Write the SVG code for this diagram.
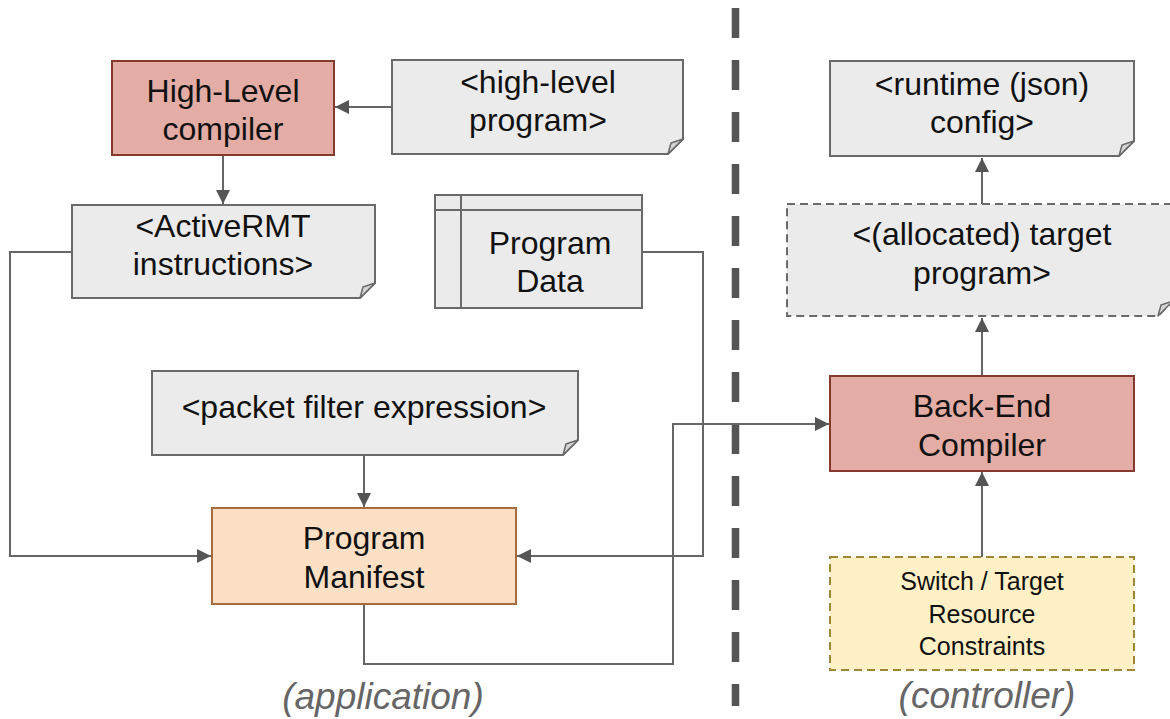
<svg xmlns="http://www.w3.org/2000/svg" width="1170" height="719" viewBox="0 0 1170 719">
<defs>
<style>
.t{font-family:"Liberation Sans",Arial,Helvetica,sans-serif;font-size:32px;fill:#111;text-anchor:middle}
.s{font-size:25px}
.lab{font-family:"Liberation Sans",Arial,Helvetica,sans-serif;font-size:37px;font-style:italic;fill:#666;text-anchor:middle}
.note{fill:#ebebeb;stroke:#6a6a6a;stroke-width:2}
.fold{fill:#d4d4d4;stroke:#6a6a6a;stroke-width:1.5;stroke-linejoin:round}
.pink{fill:#e3aca5;stroke:#86392e;stroke-width:2}
.c{fill:none;stroke:#666;stroke-width:2}
</style>
<marker id="ah" markerUnits="userSpaceOnUse" markerWidth="16" markerHeight="16" refX="14" refY="7" orient="auto">
<path d="M0,0 L14,7 L0,14 z" fill="#555"/>
</marker>
</defs>
<rect width="1170" height="719" fill="#fff"/>

<line x1="735.5" y1="8" x2="735.5" y2="706" stroke="#555" stroke-width="7.5" stroke-dasharray="30,22"/>

<g id="connectors">
<path class="c" d="M392,107 H335" marker-end="url(#ah)"/>
<path class="c" d="M223,155 V204" marker-end="url(#ah)"/>
<path class="c" d="M72,252 H10 V556 H211" marker-end="url(#ah)"/>
<path class="c" d="M642,252 H703 V556 H517" marker-end="url(#ah)"/>
<path class="c" d="M364,455 V507" marker-end="url(#ah)"/>
<path class="c" d="M364,604 V664 H673 V424 H829" marker-end="url(#ah)"/>
<path class="c" d="M982,376 V318" marker-end="url(#ah)"/>
<path class="c" d="M982,204 V158" marker-end="url(#ah)"/>
<path class="c" d="M982,557 V472" marker-end="url(#ah)"/>
</g>

<g id="high-level-compiler">
<rect class="pink" x="112" y="61" width="222" height="94"/>
<text class="t" x="223" y="102">High-Level</text>
<text class="t" x="223" y="140">compiler</text>
</g>

<g id="high-level-program">
<path class="note" d="M392,60 H683 V139 L668,154 H392 Z"/>
<path class="fold" d="M668,154 L671,143 L683,139 Z"/>
<text class="t" x="538" y="93">&lt;high-level</text>
<text class="t" x="538" y="131">program&gt;</text>
</g>

<g id="activermt-instructions">
<path class="note" d="M72,205 H375 V283 L360,298 H72 Z"/>
<path class="fold" d="M360,298 L363,287 L375,283 Z"/>
<text class="t" x="223" y="237">&lt;ActiveRMT</text>
<text class="t" x="223" y="275">instructions&gt;</text>
</g>

<g id="program-data">
<rect class="note" x="435" y="195" width="207" height="113"/>
<line x1="435" y1="210" x2="642" y2="210" stroke="#6a6a6a" stroke-width="2"/>
<line x1="461" y1="195" x2="461" y2="308" stroke="#6a6a6a" stroke-width="2"/>
<text class="t" x="550" y="254">Program</text>
<text class="t" x="550" y="292">Data</text>
</g>

<g id="packet-filter-expression">
<path class="note" d="M152,371 H578 V440 L563,455 H152 Z"/>
<path class="fold" d="M563,455 L566,444 L578,440 Z"/>
<text class="t" x="364" y="418">&lt;packet filter expression&gt;</text>
</g>

<g id="program-manifest">
<rect x="212" y="508" width="304" height="96" fill="#fce0c5" stroke="#a86b3c" stroke-width="2"/>
<text class="t" x="364" y="549">Program</text>
<text class="t" x="364" y="588">Manifest</text>
</g>

<g id="runtime-config">
<path class="note" d="M830,61 H1134 V141 L1119,156 H830 Z"/>
<path class="fold" d="M1119,156 L1122,145 L1134,141 Z"/>
<text class="t" x="982" y="95">&lt;runtime (json)</text>
<text class="t" x="982" y="133">config&gt;</text>
</g>

<g id="allocated-target-program">
<path d="M787,204 H1173 V301 L1158,316 H787 Z" fill="#ebebeb" stroke="#6a6a6a" stroke-width="2" stroke-dasharray="8,5"/>
<path class="fold" d="M1158,316 L1161,305 L1173,301 Z"/>
<text class="t" x="982" y="245">&lt;(allocated) target</text>
<text class="t" x="982" y="284">program&gt;</text>
</g>

<g id="back-end-compiler">
<rect class="pink" x="830" y="376" width="304" height="95"/>
<text class="t" x="982" y="417">Back-End</text>
<text class="t" x="982" y="456">Compiler</text>
</g>

<g id="switch-target-constraints">
<rect x="830" y="557" width="304" height="113" fill="#fff0c5" stroke="#9e8737" stroke-width="2" stroke-dasharray="8,5"/>
<text class="t s" x="982" y="590">Switch / Target</text>
<text class="t s" x="982" y="623">Resource</text>
<text class="t s" x="982" y="655">Constraints</text>
</g>

<text class="lab" x="383" y="709">(application)</text>
<text class="lab" x="987" y="708">(controller)</text>
</svg>
